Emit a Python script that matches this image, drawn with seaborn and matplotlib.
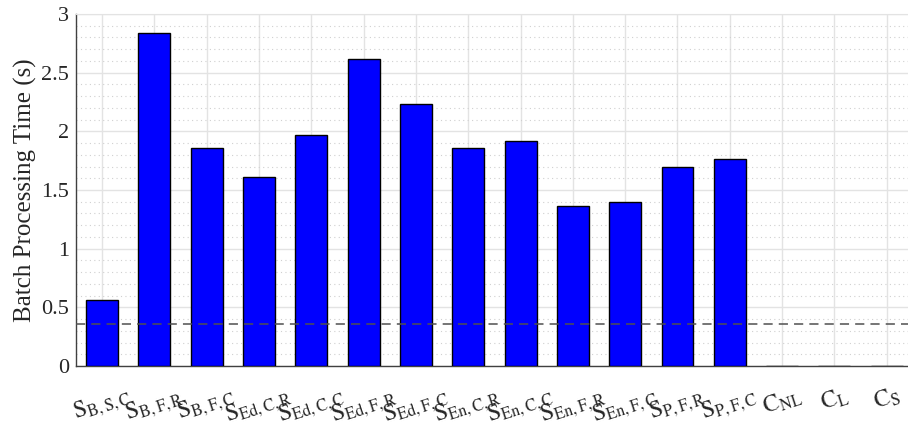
import matplotlib
matplotlib.use('Agg')
import pandas as pd
import matplotlib.pyplot as plt
import seaborn as sns
from matplotlib.ticker import MultipleLocator

# 데이터
methods = ['SBSC', 'SBFR', 'SBFC', 'SEdCR', 'SEdCC', 'SEdFR', 'SEdFC',
           'SEnCR', 'SEnCC', 'SEnFR', 'SEnFC', 'SPFR', 'SPFC', 'CNL', 'CL', 'CS']
tick_labels = [r'$\mathrm{S_{B,S,C}}$', r'$\mathrm{S_{B,F,R}}$', r'$\mathrm{S_{B,F,C}}$',
               r'$\mathrm{S_{Ed,C,R}}$', r'$\mathrm{S_{Ed,C,C}}$', r'$\mathrm{S_{Ed,F,R}}$',
               r'$\mathrm{S_{Ed,F,C}}$', r'$\mathrm{S_{En,C,R}}$', r'$\mathrm{S_{En,C,C}}$',
               r'$\mathrm{S_{En,F,R}}$', r'$\mathrm{S_{En,F,C}}$', r'$\mathrm{S_{P,F,R}}$',
               r'$\mathrm{S_{P,F,C}}$', r'$\mathrm{C_{NL}}$', r'$\mathrm{C_{L}}$', r'$\mathrm{C_{S}}$']
times = [0.565, 2.84, 1.855, 1.614, 1.97, 2.614, 2.236,
         1.86, 1.92, 1.364, 1.40, 1.70, 1.76, 0.004, 0.004, 0.004]
threshold = 0.36

df = pd.DataFrame({'method': methods, 'time': times})

sns.set_style('white')
plt.rcParams['font.family'] = ['Liberation Serif', 'DejaVu Serif']
plt.rcParams['mathtext.fontset'] = 'stix'

fig = plt.figure(figsize=(9.08, 4.28), dpi=100)
ax = fig.add_axes([0.0837, 0.1449, 0.9216, 0.8224])

sns.barplot(data=df, x='method', y='time', order=methods, color='blue',
            saturation=1, edgecolor='black', linewidth=1, width=0.61, ax=ax, zorder=3)
ax.axhline(threshold, color='#505050', linestyle=(0, (6, 4)), lw=1.1, zorder=4)

ax.set_xlim(-0.5, 15.5)
ax.set_ylim(0, 3)
ax.yaxis.set_minor_locator(MultipleLocator(0.1))
ax.set_yticks([0, 0.5, 1, 1.5, 2, 2.5, 3])
ax.set_yticklabels(['0', '0.5', '1', '1.5', '2', '2.5', '3'], fontsize=16)
ax.set_xticks(range(len(methods)))
ax.set_xticklabels(tick_labels, fontsize=17, rotation=18, ha='center')

ax.grid(True, which='major', color='#e3e3e3', lw=1, zorder=0)
ax.grid(True, which='minor', axis='y', color='#d0d0d0', lw=0.8,
        linestyle=(0, (1, 3)), zorder=0)
ax.set_axisbelow(True)

ax.tick_params(axis='both', which='major', direction='in', length=6,
               color='#303030', pad=5)
ax.tick_params(axis='y', which='minor', direction='in', length=3, color='#606060')
ax.tick_params(axis='x', which='major', pad=13)
for s in ['left', 'bottom']:
    ax.spines[s].set_color('#404040')
    ax.spines[s].set_linewidth(1)
for s in ['top', 'right']:
    ax.spines[s].set_color('#e3e3e3')

ax.set_xlabel('')
ax.set_ylabel('Batch Processing Time (s)', fontsize=18, labelpad=3)

fig.savefig('out.png', dpi=100)
